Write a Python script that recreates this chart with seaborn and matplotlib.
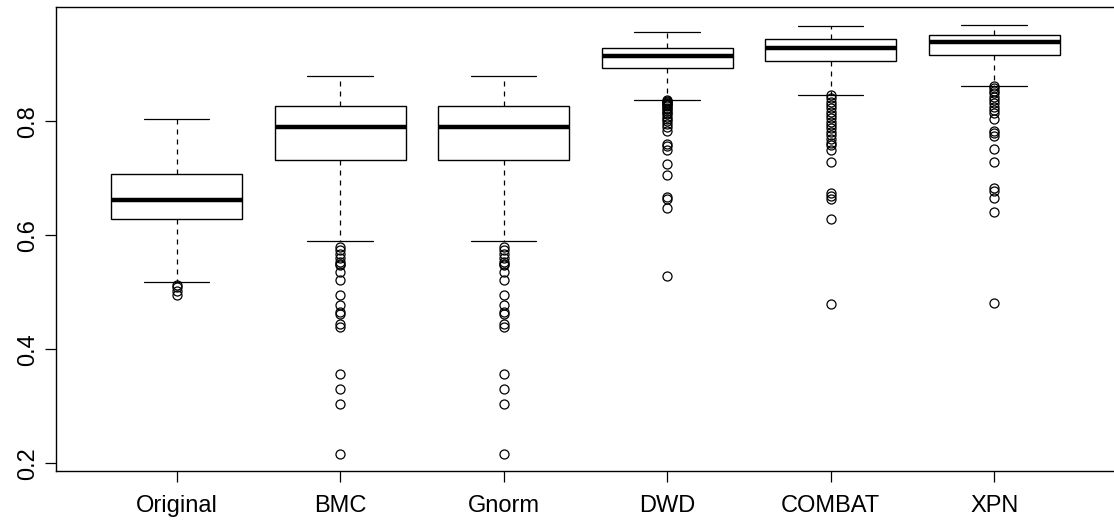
import matplotlib
matplotlib.use("Agg")
import matplotlib.pyplot as plt
import seaborn as sns

# Summary statistics of each normalisation method
methods = ["Original", "BMC", "Gnorm", "DWD", "COMBAT", "XPN"]
q1 = [0.629, 0.732, 0.732, 0.8935, 0.906, 0.916]
median = [0.6625, 0.7895, 0.7895, 0.9146, 0.929, 0.9397]
q3 = [0.708, 0.827, 0.827, 0.9286, 0.945, 0.9514]
whisker_low = [0.5186, 0.590, 0.590, 0.8374, 0.8456, 0.862]
whisker_high = [0.8046, 0.879, 0.879, 0.956, 0.9667, 0.969]

outliers_original = [0.512, 0.510, 0.503, 0.496]
outliers_bmc = [0.5795, 0.5742, 0.567, 0.5596, 0.5526, 0.550, 0.548, 0.5356,
                0.521, 0.4958, 0.4777, 0.4649, 0.4614, 0.4439, 0.4398,
                0.356, 0.3298, 0.304, 0.2169]
outliers_gnorm = [0.5795, 0.5742, 0.567, 0.5596, 0.5526, 0.550, 0.548, 0.5356,
                  0.521, 0.4958, 0.4777, 0.4649, 0.4614, 0.4439, 0.4398,
                  0.356, 0.3298, 0.304, 0.2169]
outliers_dwd = [0.837, 0.836, 0.834, 0.832, 0.830, 0.828, 0.826, 0.824, 0.821,
                0.818, 0.815, 0.812, 0.808, 0.804, 0.800, 0.795, 0.789, 0.783,
                0.760, 0.757, 0.750, 0.725, 0.706, 0.667, 0.663, 0.648, 0.529]
outliers_combat = [0.8456, 0.8404, 0.8344, 0.8286, 0.8228, 0.8168, 0.811,
                   0.8053, 0.7993, 0.7935, 0.7877, 0.7818, 0.776, 0.7684,
                   0.7625, 0.7585, 0.7497, 0.7292, 0.6737, 0.669, 0.6642,
                   0.6291, 0.4795]
outliers_xpn = [0.8619, 0.8579, 0.8537, 0.8491, 0.8432, 0.8374, 0.8316,
                0.8256, 0.8198, 0.8151, 0.8046, 0.783, 0.7789, 0.7742,
                0.7519, 0.7292, 0.6825, 0.6783, 0.666, 0.6414, 0.4812]
outliers = [outliers_original, outliers_bmc, outliers_gnorm,
            outliers_dwd, outliers_combat, outliers_xpn]

yticks = [0.2, 0.4, 0.6, 0.8]

sns.set_theme(style="ticks")
plt.rcParams["font.family"] = ["Liberation Sans", "DejaVu Sans"]

stats = [
    dict(label=m, q1=a, med=b, q3=c, whislo=d, whishi=e, fliers=f)
    for m, a, b, c, d, e, f in zip(methods, q1, median, q3,
                                   whisker_low, whisker_high, outliers)
]

fig = plt.figure(figsize=(11.14, 5.31), dpi=100)
ax = fig.add_axes([0.050, 0.113, 0.951, 0.873])

ax.bxp(
    stats,
    positions=range(len(methods)),
    widths=0.8,
    capwidths=0.4,
    patch_artist=True,
    boxprops=dict(facecolor="white", edgecolor="black", linewidth=1.0),
    medianprops=dict(color="black", linewidth=3.2, solid_capstyle="butt"),
    whiskerprops=dict(color="black", linewidth=0.9, linestyle=(0, (4, 4))),
    capprops=dict(color="black", linewidth=0.9),
    flierprops=dict(marker="o", markersize=6.5, markerfacecolor="none",
                    markeredgecolor="black", markeredgewidth=0.9),
)

ax.set_xlim(-0.74, 5.74)
ax.set_ylim(0.1865, 0.9995)
ax.set_yticks(yticks)
ax.set_yticklabels([f"{t:.1f}" for t in yticks])
ax.set_xticks(range(len(methods)))
ax.set_xticklabels(methods)

ax.tick_params(axis="both", labelsize=17, length=8, width=0.9,
               color="black", labelcolor="black")
ax.tick_params(axis="x", pad=9)
ax.tick_params(axis="y", pad=4)
for lab in ax.get_yticklabels():
    lab.set_rotation(90)
    lab.set_va("center")

for side in ["left", "bottom", "top"]:
    ax.spines[side].set_color("black")
    ax.spines[side].set_linewidth(1.0)
ax.spines["right"].set_visible(False)
ax.grid(False)

fig.savefig("out.png", dpi=100, facecolor="white")
